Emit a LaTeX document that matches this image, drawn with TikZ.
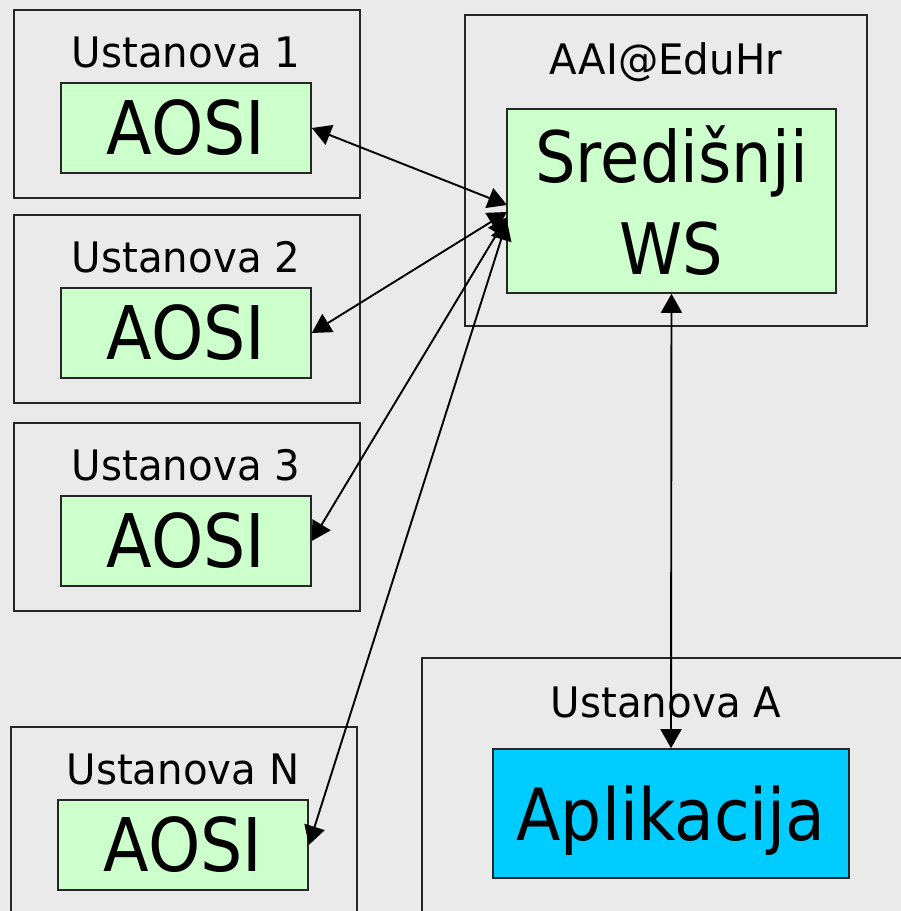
\documentclass[tikz,border=0pt]{standalone}
\usepackage{fontspec}
\setmainfont[FakeStretch=0.9]{DejaVu Sans}
\newfontfamily\capfont[FakeStretch=0.96]{DejaVu Sans}
\usetikzlibrary{arrows.meta,positioning}
\definecolor{bggray}{HTML}{EAEAEA}
\definecolor{aosigreen}{HTML}{CCFFCC}
\definecolor{appblue}{HTML}{00CCFF}

\begin{document}
\begin{tikzpicture}[x=1pt,y=1pt,>={Triangle[length=19pt,width=21pt]},
  outerbox/.style={rectangle,draw=black!85,line width=1.6pt,inner sep=0pt},
  aosi/.style={rectangle,draw=black!85,fill=aosigreen,line width=1.6pt,inner sep=0pt,minimum width=250,minimum height=90,font=\fontsize{74}{80}\selectfont},
  caption/.style={anchor=base,inner sep=0pt,font=\capfont\fontsize{42}{49}\selectfont},
  link/.style={<->,line width=1.9pt}]
    \clip (0,0) rectangle (901,911);
    \fill[bggray] (0,0) rectangle (901,911);
    \node [outerbox, minimum width=346, minimum height=188] (U1) at (187,807) {};
    \node [outerbox, minimum width=346, minimum height=188] (U2) at (187,602) {};
    \node [outerbox, minimum width=346, minimum height=188] (U3) at (187,394) {};
    \node [outerbox, minimum width=346, minimum height=250] (UN) at (184,59) {};
    \node [outerbox, minimum width=402, minimum height=311] (AAI) at (666,740.5) {};
    \node [outerbox, minimum width=578, minimum height=342] (UA) at (711,82) {};
    \node [aosi] (aosi1) at (186,783) {AOSI};
    \node [aosi] (aosi2) at (186,578) {AOSI};
    \node [aosi] (aosi3) at (186,370) {AOSI};
    \node [aosi] (aosiN) at (183,66) {AOSI};
    \node [aosi, minimum width=329, minimum height=184, align=center, font=\fontsize{71}{92}\selectfont] (WS) at (671.5,710) {Središnji\\WS};
    \node [aosi, fill=appblue, minimum width=356, minimum height=129, text depth=0pt, font=\fontsize{72}{80}\selectfont] (app) at (671,97.5) {Aplikacija};
    \node [caption] (capU1) at (186,843) {Ustanova 1};
    \node [caption] (capU2) at (186,638) {Ustanova 2};
    \node [caption] (capU3) at (186,430) {Ustanova 3};
    \node [caption] (capUN) at (183,126) {Ustanova N};
    \node [caption] (capAAI) at (666,836) {AAI@EduHr};
    \node [caption] (capUA) at (666,193) {Ustanova A};
    \coordinate (ws1) at (507,706);
    \coordinate (ws2) at (507,699);
    \coordinate (ws3) at (507,694);
    \coordinate (wsN) at (507,690);
    \path[link] (aosi1.east) edge (ws1);
    \path[link] (aosi2.east) edge (ws2);
    \path[link] (aosi3.east) edge (ws3);
    \path[link] (aosiN.east) edge (wsN);
    \path[link] (WS.south) edge (app.north);
\end{tikzpicture}
\end{document}
